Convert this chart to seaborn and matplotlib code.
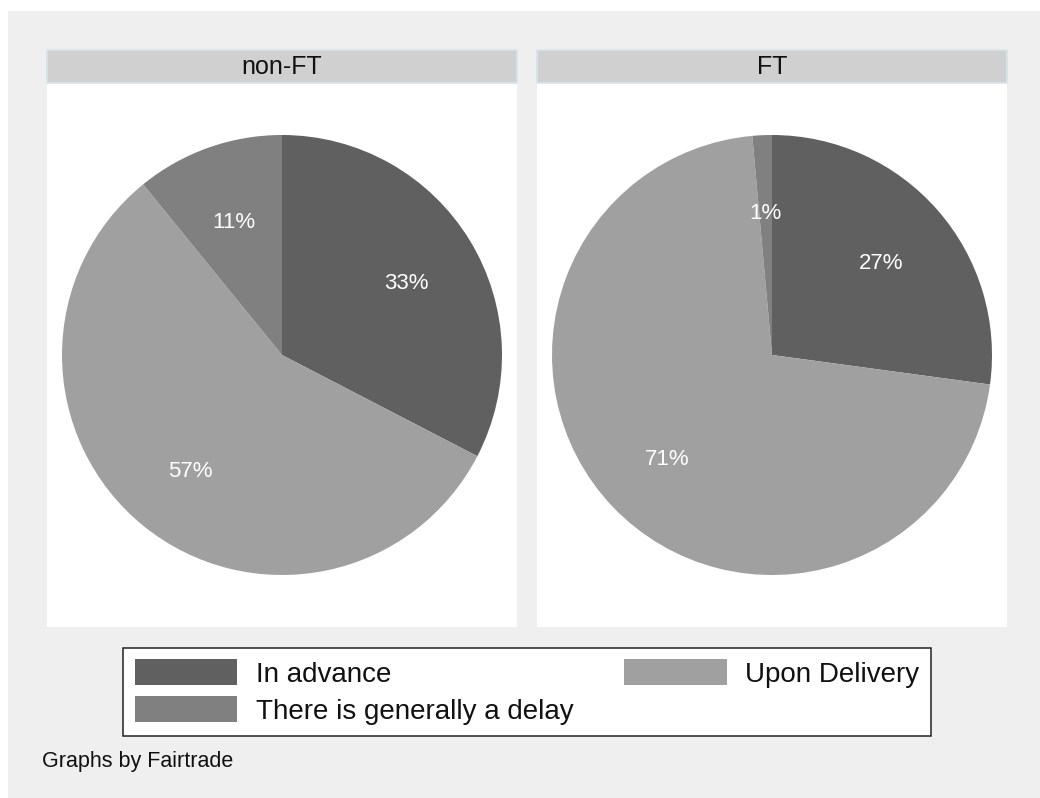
import matplotlib
matplotlib.use("Agg")
import matplotlib.pyplot as plt
from matplotlib.patches import Rectangle, Patch
import seaborn as sns

# Payment timing by Fairtrade status (respondent counts)
groups = ["non-FT", "FT"]
categories = ["In advance", "Upon Delivery", "There is generally a delay"]
non_ft_counts = [30, 52, 10]
ft_counts = [19, 50, 1]
slice_colors = ["#606060", "#a0a0a0", "#808080"]
note_text = "Graphs by Fairtrade"

sns.set_theme(style="white")
plt.rcParams["font.family"] = ["Liberation Sans", "DejaVu Sans"]

W, H = 1040, 798
fig = plt.figure(figsize=(W / 100, H / 100), dpi=100)
fig.patch.set_facecolor("white")

# outer graph region
fig.patches.append(Rectangle((8 / W, 0), 1 - 8 / W, 1 - 11 / H,
                             transform=fig.transFigure, facecolor="#efefef",
                             edgecolor="none", zorder=-10))


def px_box(x0, y0, x1, y1):
    return [x0 / W, 1 - y1 / H, (x1 - x0) / W, (y1 - y0) / H]


panels = [(47, 517), (537, 1007)]
plot_top, plot_bottom = 83, 627
strip_top = 50
radius_px = 220

for name, counts, (x0, x1) in zip(groups, [non_ft_counts, ft_counts], panels):
    ax = fig.add_axes(px_box(x0, plot_top, x1, plot_bottom))
    _, _, pct_texts = ax.pie(counts, colors=slice_colors, startangle=90,
                             counterclock=False,
                             autopct=lambda p: f"{p:.0f}%", pctdistance=0.66,
                             wedgeprops=dict(linewidth=0),
                             textprops=dict(color="white", fontsize=16))
    for t in pct_texts:
        px, py = t.get_position()
        t.set_position((px, py - 4 / radius_px))
    ax.set_aspect("auto")
    hx = (x1 - x0) / 2 / radius_px
    hy = (plot_bottom - plot_top) / 2 / radius_px
    ax.set_xlim(-hx, hx)
    ax.set_ylim(-hy, hy)
    ax.set_frame_on(False)
    ax.set_xticks([])
    ax.set_yticks([])
    fig.patches.append(Rectangle((x0 / W, 1 - plot_bottom / H),
                                 (x1 - x0) / W, (plot_bottom - plot_top) / H,
                                 transform=fig.transFigure, facecolor="white",
                                 edgecolor="none", zorder=-5))

    # panel header strip
    fig.patches.append(Rectangle((x0 / W, 1 - plot_top / H), (x1 - x0) / W,
                                 (plot_top - strip_top) / H,
                                 transform=fig.transFigure, facecolor="#d0d0d0",
                                 edgecolor="#d8e4ec", linewidth=1.2, zorder=1))
    fig.text((x0 + x1) / 2 / W, 1 - (strip_top + plot_top) / 2 / H, name,
             ha="center", va="center", fontsize=18, color="#111111")

# two-column key, filled column by column
order = [0, 2, 1]
handles = [Patch(facecolor=slice_colors[i], edgecolor="none") for i in order]
labels = [categories[i] for i in order]
leg = fig.legend(handles, labels, ncol=2, mode="expand", loc="center",
                 bbox_to_anchor=(123 / W, 1 - 737 / H, 808 / W, 90 / H),
                 bbox_transform=fig.transFigure, fontsize=20,
                 frameon=True, fancybox=False, handlelength=3.7,
                 handleheight=1.05, handletextpad=0.65, labelspacing=0.3,
                 borderpad=0.42, borderaxespad=0)
for txt in leg.get_texts():
    txt.set_color("#111111")
frame = leg.get_frame()
frame.set_facecolor("white")
frame.set_edgecolor("#222222")
frame.set_linewidth(1.1)
frame.set_alpha(1)

fig.text(42 / W, 1 - 762 / H, note_text, ha="left", va="center",
         fontsize=15.5, color="#111111")

fig.savefig("out.png", dpi=100, facecolor=fig.get_facecolor())
